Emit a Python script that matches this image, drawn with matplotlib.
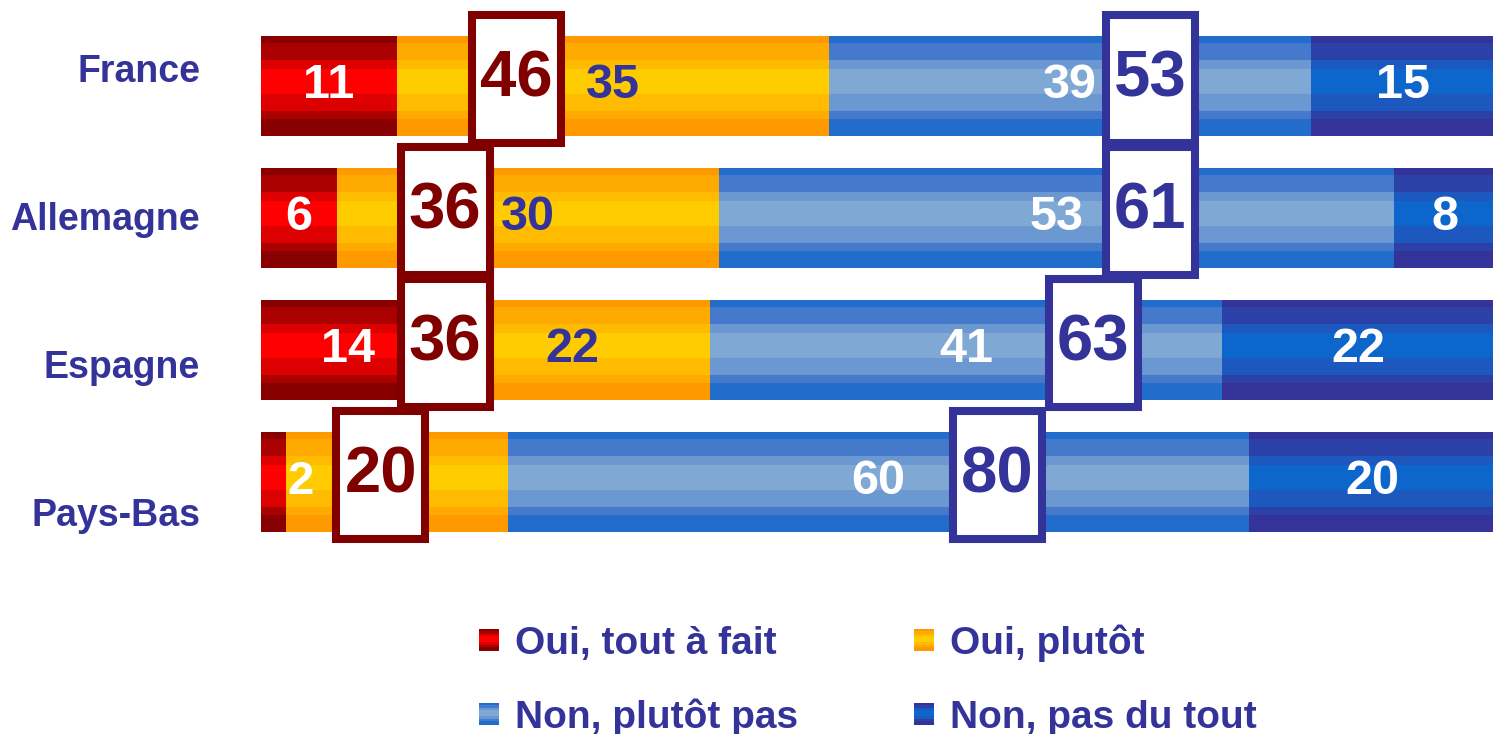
"""
    stacked bar chart: Oui / Non par pays
"""

import numpy as np
import matplotlib.pyplot as plt
from matplotlib.patches import Rectangle

plt.rcParams["font.family"] = ["Liberation Sans", "DejaVu Sans"]
plt.rcParams["font.weight"] = "bold"

# Data
countries = ["France", "Allemagne", "Espagne", "Pays-Bas"]
categories = ["Oui, tout à fait", "Oui, plutôt", "Non, plutôt pas", "Non, pas du tout"]
oui_tout = [11, 6, 14, 2]
oui_plutot = [35, 30, 22, 18]
non_plutot = [39, 53, 41, 60]
non_pas = [15, 8, 22, 20]
total_oui = [46, 36, 36, 20]
total_non = [53, 61, 63, 80]

# Layout of the total boxes (x centre, in % of bar width)
oui_box_x = [20.7, 14.9, 14.9, 9.7]
non_box_x = [72.0, 72.0, 67.4, 59.6]

NAVY = "#333399"
MAROON = "#800000"

# band colours, from bar edge to bar middle
bands = {
    0: ["#880000", "#AA0000", "#DD0000", "#FF0000"],
    1: ["#FF9900", "#FFAA00", "#FFBB00", "#FFCC00"],
    2: ["#226CCC", "#4479CC", "#6B98D0", "#80A8D5"],
    3: ["#333399", "#2B41A8", "#1D58BE", "#0D66CC"],
}
band_order = [0, 1, 1, 2, 3, 3, 3, 2, 2, 1, 0, 0]
label_colors = ["white", NAVY, "white", "white"]


def gradient(seg):
    cols = [bands[seg][i] for i in band_order]
    rgb = np.array([[int(c[k:k + 2], 16) / 255 for k in (1, 3, 5)] for c in cols])
    return rgb[:, None, :]


W, H = 1493, 734
fig = plt.figure(figsize=(W / 100, H / 100), dpi=100)

left = 261 / W
px_per_unit = 12.35
row_px = 132
ax = fig.add_axes([left, 0, 1 - left, 1])
ax.axis("off")

series = [oui_tout, oui_plutot, non_plutot, non_pas]
# the bars are 100% stacked: each row is scaled by its own total
row_totals = np.sum(series, axis=0)
y = np.arange(len(countries))
bar_h = 0.76
lefts = np.zeros(len(countries))
for s, vals in enumerate(series):
    shares = np.array(vals) / row_totals * 100
    bars = ax.barh(y, shares, left=lefts, height=bar_h, color=bands[s][3], linewidth=0)
    for i, bar in enumerate(bars):
        x0, y0, w = bar.get_x(), bar.get_y(), bar.get_width()
        im = ax.imshow(gradient(s), extent=[x0, x0 + w, y0 + bar_h, y0],
                       aspect="auto", interpolation="nearest", zorder=2)
        im.set_clip_path(bar)
        v = vals[i]
        # small segments get their label just right of the segment
        if v < 4:
            ax.text(x0 + w + 0.1, y[i], str(v), color=label_colors[s], fontsize=34,
                    fontweight="bold", ha="left", va="center", zorder=3)
        else:
            ax.text(x0 + w / 2, y[i], str(v), color=label_colors[s], fontsize=35,
                    fontweight="bold", ha="center", va="center", zorder=3)
    lefts += shares
ax.set_xlim(0, (W - 261) / px_per_unit)
ax.set_ylim((H - 86) / row_px, -86 / row_px)

# total boxes
box_w = 89 / px_per_unit
box_h = 128 / row_px
for i in range(len(countries)):
    for bx, val, col in ((oui_box_x[i], total_oui[i], MAROON), (non_box_x[i], total_non[i], NAVY)):
        yc = y[i] - 0.05
        ax.add_patch(Rectangle((bx - box_w / 2, yc - box_h / 2), box_w, box_h,
                               facecolor="white", edgecolor=col, linewidth=5.8,
                               joinstyle="miter", zorder=5, clip_on=False))
        ax.text(bx, yc, str(val), color=col, fontsize=47, fontweight="bold",
                ha="center", va="center", zorder=6)

# overlay in pixel coordinates for country names and legend
ov = fig.add_axes([0, 0, 1, 1])
ov.axis("off")
ov.patch.set_alpha(0)

for i, name in enumerate(countries):
    ov.text(200, 82 + 148 * i, name, color=NAVY, fontsize=27, fontweight="bold",
            ha="right", va="baseline")

legend_pos = [(479, 629), (914, 629), (479, 703), (914, 703)]
for s, (lx, ly) in enumerate(legend_pos):
    ov.imshow(gradient(s), extent=[lx, lx + 20, ly + 22, ly], aspect="auto",
              interpolation="nearest", zorder=2)
    ov.text(lx + 36, ly + 25, categories[s], color=NAVY, fontsize=28,
            fontweight="bold", ha="left", va="baseline")
ov.set_xlim(0, W)
ov.set_ylim(H, 0)

plt.savefig("out.png", dpi=100)
